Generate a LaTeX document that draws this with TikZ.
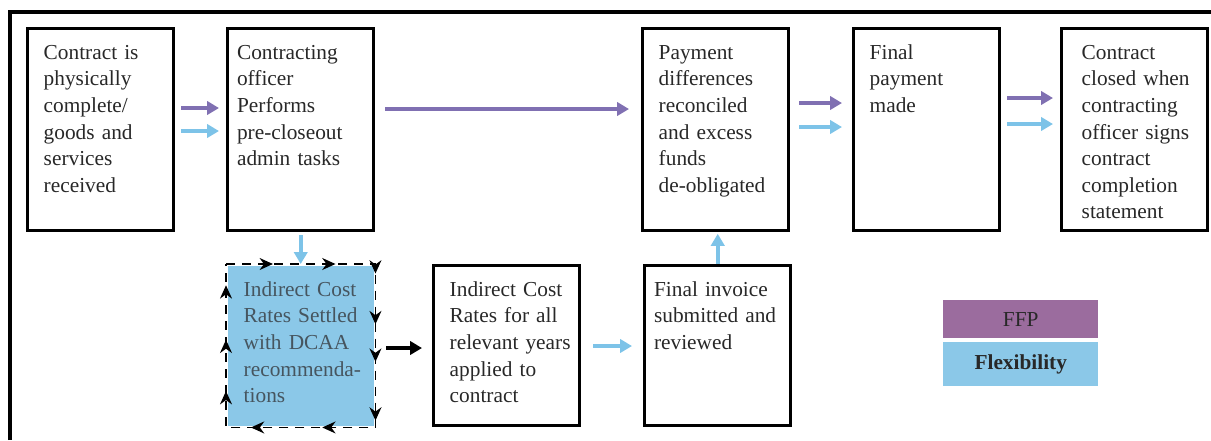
\documentclass[tikz,border=0pt]{standalone}
\usepackage{fontspec}
\setmainfont{Liberation Serif}
\usetikzlibrary{arrows.meta,decorations.markings}
\definecolor{P}{RGB}{128, 112, 178}
\definecolor{L}{RGB}{125, 195, 232}
\definecolor{PF}{RGB}{155, 108, 158}
\definecolor{LF}{RGB}{139, 200, 232}
\definecolor{T}{RGB}{40, 40, 40}
\definecolor{TG}{RGB}{70, 85, 95}

% lineas sin cortes automaticos
\newcommand{\boxlines}[1]{\begin{tabular}[t]{@{}l@{}}#1\end{tabular}}

\tikzset{
  stage/.style={draw=black, line width=2.6pt, anchor=north west, align=left, text=T,
    inner ysep=0pt, inner xsep=12pt, text width=85.5pt, text height=23pt,
    font=\fontsize{16pt}{19.9pt}\selectfont},
  tall/.style={text depth=128.5pt},
  short/.style={text depth=97pt},
  tight/.style={inner xsep=7pt, text width=95.5pt},
  ffp/.style={draw=P, line width=3pt, -{Triangle[length=9pt,width=10pt]}},
  flex/.style={draw=L, line width=3pt, -{Triangle[length=9pt,width=10pt]}},
  key/.style={anchor=north west, minimum width=116.25pt, inner sep=0pt, text=T,
    font=\fontsize{16pt}{19.9pt}\selectfont},
  tipmark/.style={decoration={markings,
    mark=at position #1 with {\arrow[line width=1pt]{Stealth[length=10pt,width=9pt]}}},
    postaction={decorate}}
}

\begin{document}
\begin{tikzpicture}[x=0.75pt,y=-0.75pt]
  \useasboundingbox (0,0) rectangle (1211,440);
  % marco (solo arriba e izquierda)
  \draw[line width=3pt] (10,440) -- (10,12) -- (1211,12);

  % fila superior
  \node[stage,tall] (b1) at (26,27) {\boxlines{Contract is\\physically\\complete/\\goods and\\services\\received}};
  \node[stage,tall,tight] (b2) at (226,27) {\boxlines{Contracting\\officer\\Performs\\pre-closeout\\admin tasks}};
  \node[stage,tall] (b3) at (641,27) {\boxlines{Payment\\differences\\reconciled\\and excess\\funds\\de-obligated}};
  \node[stage,tall] (b4) at (852,27) {\boxlines{Final\\payment\\made}};
  \node[stage,tall,inner xsep=15pt,text width=79.5pt] (b5) at (1060,27) {\boxlines{Contract\\closed when\\contracting\\officer signs\\contract\\completion\\statement}};

  % fila inferior
  \node[stage,short,draw=none,fill=LF,text=TG] (b6) at (226,264) {\boxlines{Indirect Cost\\Rates Settled\\with DCAA\\recommenda-\\tions}};
  \node[stage,short] (b7) at (432,264) {\boxlines{Indirect Cost\\Rates for all\\relevant years\\applied to\\contract}};
  \node[stage,short,tight] (b8) at (643,264) {\boxlines{Final invoice\\submitted and\\reviewed}};

  % borde con flechas
  \draw[line width=1.4pt, dash pattern=on 7pt off 5pt]
    (b6.north west) -- (b6.north east) -- (b6.south east) -- (b6.south west) -- cycle;
  \foreach \p in {0.075,0.175,0.254,0.335,0.395,0.489,0.585,0.699,0.797,0.879,0.966}
    \path[tipmark=\p] (b6.north west) -- (b6.north east) -- (b6.south east) -- (b6.south west) -- cycle;

  % flechas
  \draw[ffp] ([shift={(6,81)}]b1.north east) -- ([shift={(-7,81)}]b2.north west);
  \draw[flex] ([shift={(6,104)}]b1.north east) -- ([shift={(-7,104)}]b2.north west);
  \draw[ffp] ([shift={(10,82)}]b2.north east) -- ([shift={(-12,82)}]b3.north west);
  \draw[ffp] ([shift={(9,76)}]b3.north east) -- ([shift={(-10,76)}]b4.north west);
  \draw[flex] ([shift={(9,100)}]b3.north east) -- ([shift={(-10,100)}]b4.north west);
  \draw[ffp] ([shift={(6,71)}]b4.north east) -- ([shift={(-7,71)}]b5.north west);
  \draw[flex] ([shift={(6,97)}]b4.north east) -- ([shift={(-7,97)}]b5.north west);
  \draw[flex, shorten <=2pt] (b2.south) -- (b6.north);
  \draw[flex, shorten >=1pt] (b8.north) -- (b8.north |- b3.south);
  \draw[draw=black, line width=3pt, -{Triangle[length=9pt,width=10pt]}]
    ([shift={(11,84)}]b6.north east) -- ([shift={(-10,84)}]b7.north west);
  \draw[flex] ([shift={(12,82)}]b7.north east) -- ([shift={(-11,82)}]b8.north west);

  % leyenda
  \node[key, fill=PF, minimum height=28.5pt] (ffpkey) at (943,300) {FFP};
  \node[key, fill=LF, minimum height=33pt, font=\fontsize{16pt}{19.9pt}\selectfont\bfseries] (flexkey) at (943,342) {Flexibility};
\end{tikzpicture}
\end{document}
